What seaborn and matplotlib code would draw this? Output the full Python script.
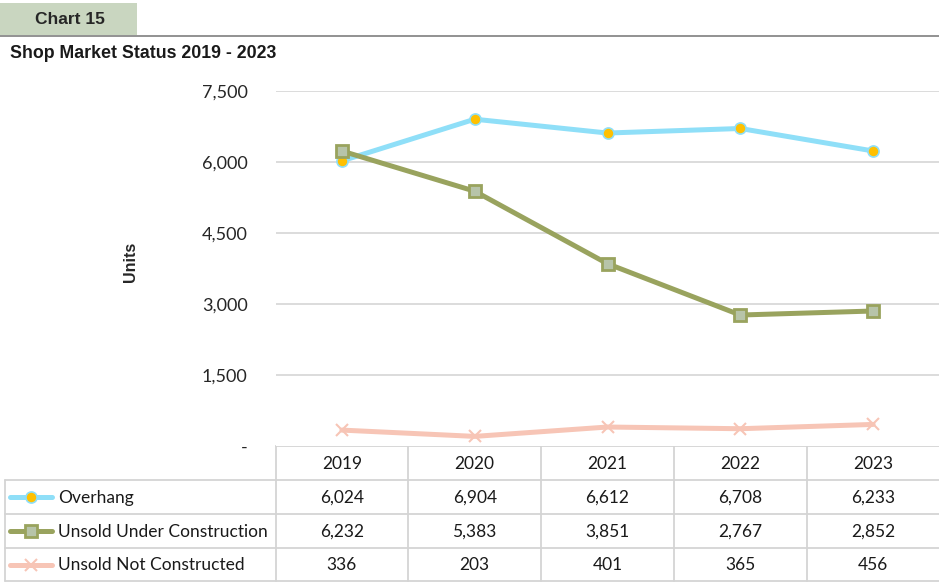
import numpy as np
import pandas as pd
import seaborn as sns
import matplotlib.pyplot as plt
from matplotlib.patches import Rectangle
from matplotlib.lines import Line2D

# podaci
years = ["2019", "2020", "2021", "2022", "2023"]
overhang = [6024, 6904, 6612, 6708, 6233]
unsold_uc = [6232, 5383, 3851, 2767, 2852]
unsold_nc = [336, 203, 401, 365, 456]
series_names = ["Overhang", "Unsold Under Construction", "Unsold Not Constructed"]
yticks = [0, 1500, 3000, 4500, 6000, 7500]

df = pd.DataFrame({"year": years * 3,
                   "x": list(range(len(years))) * 3,
                   "units": overhang + unsold_uc + unsold_nc,
                   "series": np.repeat(series_names, len(years))})

styles = {
    "Overhang": dict(color="#8fdff8", marker="o", markersize=8, markerfacecolor="#ffc000",
                     markeredgecolor="#8fdff8", markeredgewidth=1.2),
    "Unsold Under Construction": dict(color="#99a35e", marker="s", markersize=9, markerfacecolor="#b7c4a9",
                                      markeredgecolor="#99a35e", markeredgewidth=2),
    "Unsold Not Constructed": dict(color="#f7c5b6", marker="x", markersize=9, markeredgecolor="#f7c5b6",
                                   markeredgewidth=1.5),
}

sns.set_style("white")
plt.rcParams['font.family'] = ['Lato', 'DejaVu Sans']

W, H = 939, 582
fig = plt.figure(figsize=(W / 100, H / 100), dpi=100)

# glavni grafikon
L, R, T, B = 275.5, 939.5, 91, 446
ax = fig.add_axes([L / W, 1 - B / H, (R - L) / W, (B - T) / H])
for name in series_names:
    sns.lineplot(data=df[df.series == name], x="x", y="units", ax=ax, linewidth=3.6,
                 legend=False, zorder=3, **styles[name])
ax.set_xlim(-0.5, len(years) - 0.5)
ax.set_ylim(0, 7500)
ax.set_yticks(yticks)
ax.set_yticklabels(["-" if v == 0 else f"{v:,}" for v in yticks], fontsize=13, color="#262626")
ax.set_xticks([])
ax.set_xlabel("")
ax.set_ylabel("")
ax.tick_params(axis="y", length=0, pad=20)
for v in yticks[1:]:
    ax.axhline(v, color="#d9d9d9", lw=1.3, zorder=1)
for s in ax.spines.values():
    s.set_visible(False)
fig.text(130 / W, 1 - 262 / H, "Units", rotation=90, ha="center", va="center",
         fontsize=11.5, fontweight="bold", family=["Liberation Sans", "DejaVu Sans"])

# overlay za header i tabelu (pikselne koordinate)
ov = fig.add_axes([0, 0, 1, 1], zorder=-1)
ov.set_xlim(0, W)
ov.set_ylim(H, 0)
ov.axis("off")

ov.plot([0, W], [35.5, 35.5], color="#7f7f7f", lw=1.2)
ov.add_patch(Rectangle((0, 3), 137, 32, facecolor="#c9d6c0", edgecolor="none"))
ov.text(70, 20, "Chart 15", ha="center", va="center", fontsize=12.5, fontweight="bold",
        family=["Liberation Sans", "DejaVu Sans"], color="#262626")
ov.text(10, 53, "Shop Market Status 2019 - 2023", ha="left", va="center", fontsize=12.8,
        fontweight="bold", family=["Liberation Sans", "DejaVu Sans"], color="#1a1a1a")

# tabela
grid_c = "#d4d4d4"
col_edges = np.linspace(L, R, len(years) + 1)
row_edges = [446, 480, 514, 548, 581]
ov.plot([L, R], [row_edges[0]] * 2, color=grid_c, lw=1.3)
for y in row_edges[1:]:
    ov.plot([5, R], [y, y], color=grid_c, lw=1.3)
for x in col_edges:
    ov.plot([x, x], [row_edges[0], row_edges[-1]], color=grid_c, lw=1.3)
ov.plot([5, 5], [row_edges[1], row_edges[-1]], color=grid_c, lw=1.3)

centers = (col_edges[:-1] + col_edges[1:]) / 2
ymid = [(row_edges[i] + row_edges[i + 1]) / 2 for i in range(4)]
for cx, yr in zip(centers, years):
    ov.text(cx, ymid[0] + 1, yr, ha="center", va="center", fontsize=12.5, color="#1a1a1a")
for i, (name, vals) in enumerate(zip(series_names, [overhang, unsold_uc, unsold_nc])):
    ym = ymid[i + 1]
    st = styles[name]
    ov.add_line(Line2D([10, 31, 52], [ym, ym, ym], lw=3.6, markevery=[1], **st))
    ov.text(58, ym + 1, name, ha="left", va="center", fontsize=12.5, color="#1a1a1a")
    for cx, v in zip(centers, vals):
        ov.text(cx, ym + 1, f"{v:,}", ha="center", va="center", fontsize=12.5, color="#1a1a1a")

plt.savefig("out.png", dpi=100)
